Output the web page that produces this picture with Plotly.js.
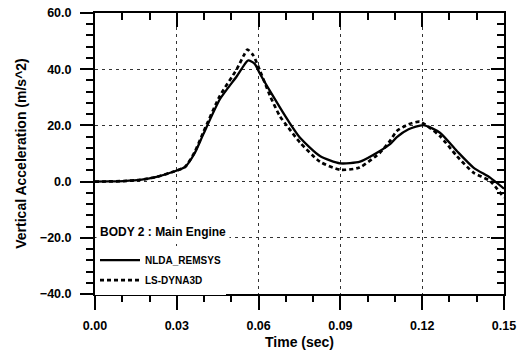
<!DOCTYPE html>
<html>
<head>
<meta charset="utf-8">
<script src="https://cdn.plot.ly/plotly-3.0.1.min.js"></script>
<style>html,body{margin:0;padding:0;background:#fff;}#chart{width:529px;height:351px;}</style>
</head>
<body>
<div id="chart"></div>
<script>
// Time (sec)
const timeSolid = [0, 0.005, 0.0104, 0.0165, 0.0226, 0.0287, 0.033, 0.0365, 0.0397, 0.0458, 0.052, 0.0545, 0.0562, 0.0585, 0.0605, 0.0642, 0.0678, 0.0709, 0.0752, 0.0825, 0.0899, 0.0972, 0.1045, 0.1082, 0.1107, 0.115, 0.1204, 0.1265, 0.1327, 0.1388, 0.1449, 0.15];
const nldaRemsys = [0, 0.05, 0.2, 0.6, 1.7, 3.5, 5.2, 10.0, 16.8, 29.3, 37.5, 41.2, 43.1, 42.0, 38.4, 32.2, 26.4, 21.6, 15.6, 9.1, 6.5, 7.1, 10.9, 13.3, 15.8, 18.6, 20.1, 17.4, 10.9, 5.0, 1.4, -2.5];

const timeDashed = [0, 0.005, 0.0104, 0.0165, 0.0226, 0.0287, 0.033, 0.0365, 0.0397, 0.0458, 0.052, 0.0545, 0.0559, 0.058, 0.0605, 0.0642, 0.0678, 0.0709, 0.0752, 0.0825, 0.09, 0.097, 0.1045, 0.1082, 0.1107, 0.115, 0.1192, 0.1265, 0.1327, 0.1388, 0.1449, 0.15];
const lsDyna3d = [0, 0.05, 0.2, 0.6, 1.7, 3.5, 5.2, 10.4, 17.5, 30.5, 40.0, 44.8, 47.0, 45.0, 39.5, 30.5, 23.3, 19.2, 13.9, 7.1, 4.2, 5.0, 10.3, 14.5, 18.0, 20.4, 21.3, 16.2, 9.1, 3.2, 0.2, -5.7];

const xTicks = [0, 0.03, 0.06, 0.09, 0.12, 0.15];
const yTicks = [-40, -20, 0, 20, 40, 60];
const seriesNames = ['NLDA_REMSYS', 'LS-DYNA3D'];
const legendTitle = 'BODY 2 : Main Engine';
const xTitle = 'Time (sec)';
const yTitle = 'Vertical Acceleration (m/s^2)';

const F = 'Liberation Sans, Arial, sans-serif';

const traces = [
  {x: timeSolid, y: nldaRemsys, name: seriesNames[0], mode: 'lines', legendgroup: 'a',
   line: {color: '#000', width: 2.3, shape: 'spline', smoothing: 0.6}},
  {x: timeDashed, y: lsDyna3d, name: seriesNames[1], mode: 'lines', legendgroup: 'b',
   line: {color: '#000', width: 2.7, dash: '4px,3px', shape: 'spline', smoothing: 0.6}},
  // empty helper traces so the mirrored top / right axes get drawn
  {x: [], y: [], xaxis: 'x2', yaxis: 'y', showlegend: false, hoverinfo: 'skip', mode: 'lines'},
  {x: [], y: [], xaxis: 'x', yaxis: 'y2', showlegend: false, hoverinfo: 'skip', mode: 'lines'}
];

const gridStyle = {showgrid: true, gridcolor: '#333', gridwidth: 1, griddash: '3px,4px'};

const layout = {
  width: 529, height: 351,
  margin: {l: 95, r: 25, t: 13, b: 57},
  paper_bgcolor: '#fff', plot_bgcolor: '#fff',
  font: {family: F, color: '#000', size: 12, weight: 'bold'},
  showlegend: true,
  legend: {
    x: 0.0, y: 0.172, xanchor: 'left', yanchor: 'top',
    bgcolor: '#fff', borderwidth: 0,
    font: {family: F, size: 10, weight: 'bold', color: '#000'},
    traceorder: 'grouped', tracegroupgap: 1, itemwidth: 40
  },
  annotations: [{
    text: legendTitle, xref: 'paper', yref: 'paper', x: 0.003, y: 0.222,
    xanchor: 'left', yanchor: 'middle', showarrow: false,
    bgcolor: '#fff', borderpad: 3,
    font: {family: F, size: 12, weight: 'bold', color: '#000'}
  }],
  xaxis: Object.assign({
    range: [0, 0.15], tickvals: xTicks, tickformat: '.2f',
    ticks: 'outside', ticklen: 14, tickwidth: 2, tickcolor: '#000', ticklabelstandoff: 5,
    minor: {dtick: 0.01, tick0: 0, ticks: 'outside', ticklen: 6, tickwidth: 2, tickcolor: '#000', showgrid: false},
    showline: true, linecolor: '#000', linewidth: 2, zeroline: false,
    tickfont: {family: F, size: 12.5, weight: 'bold'},
    title: {text: xTitle, font: {family: F, size: 14, weight: 'bold'}, standoff: 5},
    automargin: false
  }, gridStyle),
  xaxis2: {
    overlaying: 'x', side: 'top', anchor: 'y', range: [0, 0.15],
    tickvals: xTicks, showticklabels: false,
    ticks: 'inside', ticklen: 14, tickwidth: 2, tickcolor: '#000',
    minor: {dtick: 0.01, tick0: 0, ticks: 'inside', ticklen: 7, tickwidth: 2, tickcolor: '#000', showgrid: false},
    showline: true, linecolor: '#000', linewidth: 2, showgrid: false, zeroline: false
  },
  yaxis: Object.assign({
    range: [-40, 60], tickvals: yTicks, tickformat: '.1f',
    ticks: 'outside', ticklen: 13, tickwidth: 2, tickcolor: '#000', ticklabelstandoff: 6,
    minor: {dtick: 4, tick0: 0, ticks: 'outside', ticklen: 7, tickwidth: 2, tickcolor: '#000', showgrid: false},
    showline: true, linecolor: '#000', linewidth: 2, zeroline: false,
    tickfont: {family: F, size: 12.5, weight: 'bold'},
    title: {text: yTitle, font: {family: F, size: 14, weight: 'bold'}, standoff: 10},
    automargin: false
  }, gridStyle),
  yaxis2: {
    overlaying: 'y', side: 'right', anchor: 'x', range: [-40, 60],
    tickvals: yTicks, showticklabels: false,
    ticks: 'inside', ticklen: 13, tickwidth: 2, tickcolor: '#000',
    minor: {dtick: 4, tick0: 0, ticks: 'inside', ticklen: 7, tickwidth: 2, tickcolor: '#000', showgrid: false},
    showline: true, linecolor: '#000', linewidth: 2, showgrid: false, zeroline: false
  }
};

Plotly.newPlot('chart', traces, layout, {displayModeBar: false, staticPlot: true});
</script>
</body>
</html>
